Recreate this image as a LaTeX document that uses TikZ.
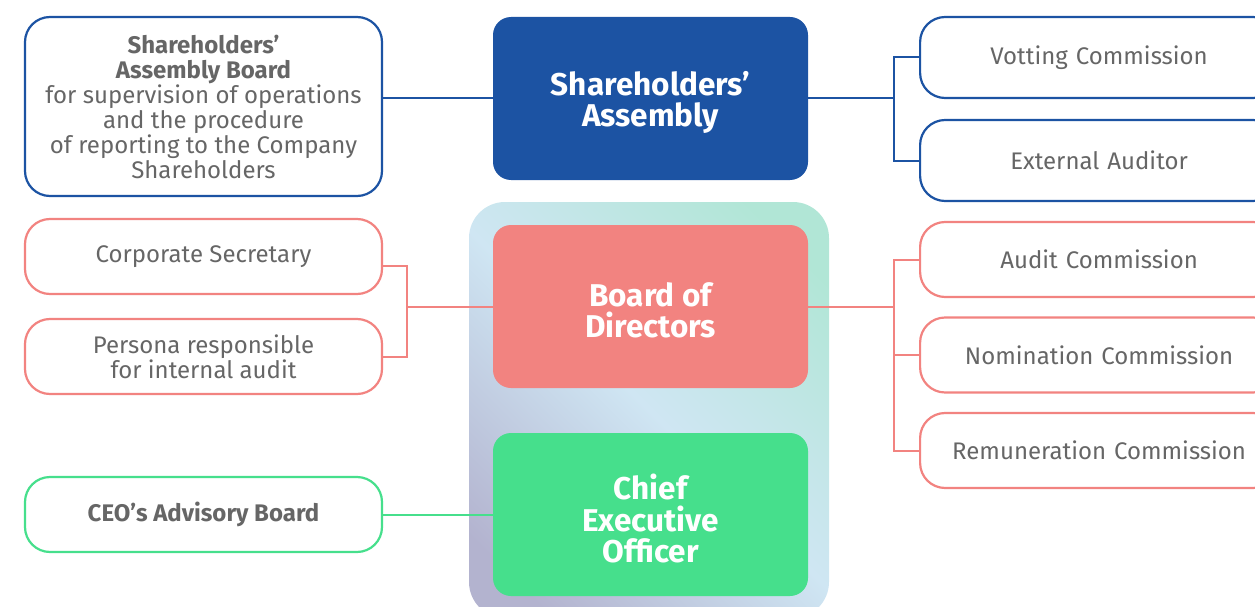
\documentclass[tikz,border=0pt]{standalone}
\usepackage{fontspec}
\setmainfont{Fira Sans}
\definecolor{cblue}{HTML}{1C53A3}
\definecolor{cred}{HTML}{F28380}
\definecolor{cgreen}{HTML}{46DF8C}
\definecolor{ctext}{HTML}{666666}
\definecolor{cmint}{HTML}{B1E6D6}
\definecolor{clblue}{HTML}{CFE6F3}
\definecolor{clav}{HTML}{B3B3CF}
\pgfdeclareverticalshading{contshade}{100bp}{color(0bp)=(clav); color(22bp)=(clav); color(50bp)=(clblue); color(78bp)=(cmint); color(100bp)=(cmint)}
\tikzset{
  sidebox/.style={draw, line width=2.2pt, fill=white, rounded corners=25pt, align=center,
    text=ctext, font=\fontsize{24}{25}\selectfont, minimum width=357pt, inner sep=0pt},
  rightbox/.style={draw, line width=2.2pt, fill=white, rounded corners=25pt, align=center,
    text=ctext, font=\fontsize{24}{25}\selectfont, minimum width=358pt, inner sep=0pt, anchor=west, text width=340pt},
  mainbox/.style={rounded corners=18pt, minimum width=315pt, minimum height=163pt, inner sep=0pt},
  maintext/.style={text=white, align=center, font=\fontsize{31.5}{31.5}\selectfont\bfseries, yshift=-4pt, inner sep=0pt},
  conn/.style={line width=2pt}
}
\begin{document}
\begin{tikzpicture}[x=1pt,y=-1pt]
\useasboundingbox (0,0) rectangle (1255,607);
\clip (0,0) rectangle (1255,607);
% container
\shade[rounded corners=36pt, shading=contshade, shading angle=-45]
  (469,202) rectangle (829,618);
% main boxes
\node[mainbox, fill=cblue, label={[maintext]center:{Shareholders’\\Assembly}}] (sa) at (650.5,98.5) {};
\node[mainbox, fill=cred, label={[maintext]center:{Board of\\Directors}}] (bod) at (650.5,306.5) {};
\node[mainbox, fill=cgreen, label={[maintext]center:{Chief\\Executive\\Officer}}] (ceo) at (650.5,514.5) {};
% left boxes
\node[sidebox, draw=cblue, minimum height=179pt] (sab) at (203.5,106.5)
  {\textbf{Shareholders’}\\\textbf{Assembly Board}\\for supervision of operations\\and the procedure\\of reporting to the Company\\Shareholders};
\node[sidebox, draw=cred, minimum height=75pt] (cs) at (203.5,256.5) {Corporate Secretary};
\node[sidebox, draw=cred, minimum height=75pt] (pr) at (203.5,356.5) {Persona responsible\\for internal audit};
\node[sidebox, draw=cgreen, minimum height=75pt] (adv) at (203.5,514.5) {\textbf{CEO’s Advisory Board}\rule[-1.5pt]{0pt}{1pt}};
% right boxes
\node[rightbox, draw=cblue, minimum height=81pt] (vot) at (919,57.5) {\raisebox{-1.5pt}{Votting Commission}};
\node[rightbox, draw=cblue, minimum height=81pt] (ext) at (919,160.5) {\raisebox{-1pt}{External Auditor}};
\node[rightbox, draw=cred, minimum height=75pt] (aud) at (919,259.5) {Audit Commission};
\node[rightbox, draw=cred, minimum height=75pt] (nom) at (919,355) {Nomination Commission};
\node[rightbox, draw=cred, minimum height=75pt] (rem) at (919,450.5) {Remuneration Commission};
% junctions
\coordinate (jb) at (894,98.5);
\coordinate (jl) at (407,306.5);
\coordinate (jr) at (894,306.5);
% connectors
\draw[conn, cblue] (sab.east |- sa.west) -- (sa.west);
\draw[conn, cblue] (sa.east) -- (jb);
\draw[conn, cblue] (vot.west) -| (jb) |- (ext.west);
\draw[conn, cred] ([yshift=-9.5pt]cs.east) -| (jl) |- (pr.east);
\draw[conn, cred] (jl) -- (bod.west);
\draw[conn, cred] (bod.east) -- (jr);
\draw[conn, cred] (aud.west) -| (jr) |- (rem.west);
\draw[conn, cred] (nom.west) -- (nom.west -| jr);
\draw[conn, cgreen] (adv.east) -- (ceo.west);
\end{tikzpicture}
\end{document}
